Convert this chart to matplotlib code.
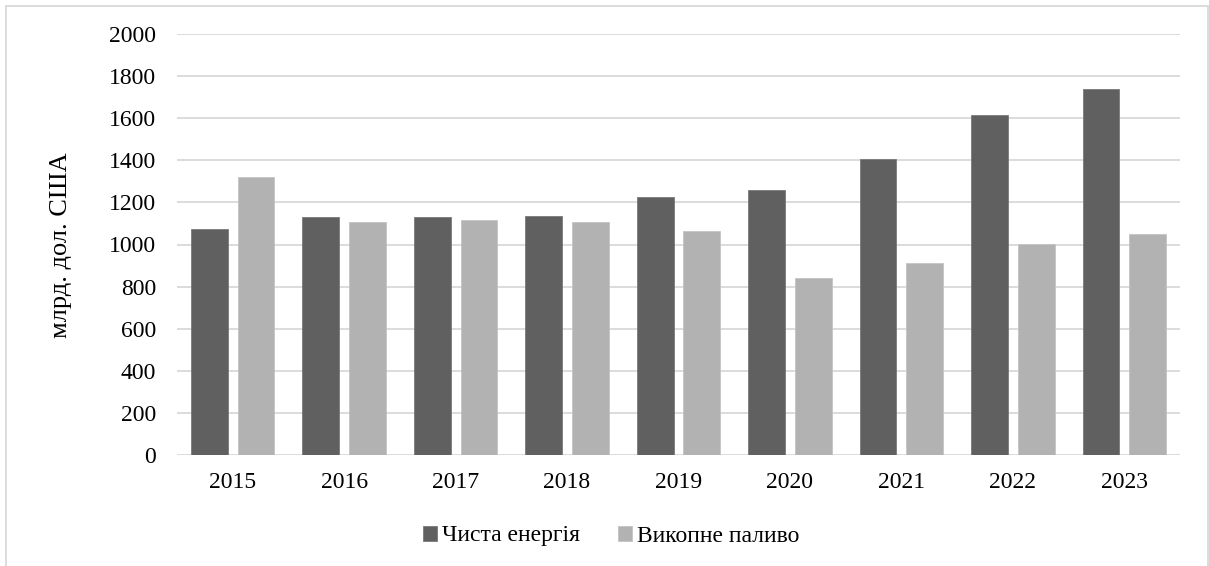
import numpy as np
import matplotlib.pyplot as plt
from matplotlib.patches import Rectangle

years = ["2015", "2016", "2017", "2018", "2019", "2020", "2021", "2022", "2023"]
clean_energy = [1074, 1132, 1129, 1137, 1226, 1259, 1408, 1617, 1741]
fossil_fuel = [1319, 1105, 1115, 1108, 1066, 839, 913, 1002, 1051]
series_names = ["Чиста енергія", "Викопне паливо"]
y_ticks = [0, 200, 400, 600, 800, 1000, 1200, 1400, 1600, 1800, 2000]

plt.rcParams["font.family"] = ["Liberation Serif", "DejaVu Serif"]

fig = plt.figure(figsize=(12.09, 5.66), dpi=100)
ax = fig.add_axes([177 / 1209, 1 - 455 / 566, (1180 - 177) / 1209, (455 - 34) / 566])

x = np.arange(len(years))
w = 0.33
off = 0.209
ax.bar(x - off, clean_energy, w, color="#606060", edgecolor="#7a7a7a", linewidth=0.6,
       label=series_names[0], zorder=3)
ax.bar(x + off, fossil_fuel, w, color="#b2b2b2", edgecolor="#c4c4c4", linewidth=0.6,
       label=series_names[1], zorder=3)

ax.set_xlim(-0.5, len(years) - 0.5)
ax.set_ylim(0, 2000)
ax.set_yticks(y_ticks)
ax.set_xticks(x)
ax.set_xticklabels(years)
ax.tick_params(axis="both", length=0, labelsize=17, colors="black")
ax.tick_params(axis="y", pad=15)
ax.tick_params(axis="x", pad=12)
ax.yaxis.grid(True, color="#d9d9d9", linewidth=1.3, zorder=0)
ax.set_axisbelow(True)
for s in ax.spines.values():
    s.set_visible(False)

fig.text(61 / 1209, 1 - 245 / 566, "млрд. дол. США", rotation=90, fontsize=19,
         ha="center", va="center")

leg = fig.legend(loc="center", bbox_to_anchor=(611 / 1209, 1 - 536 / 566), ncol=2,
                 frameon=False, fontsize=17, handlelength=0.6, handleheight=0.6,
                 handletextpad=0.2, columnspacing=1.6)

# light border around the chart
fig.patches.append(Rectangle((6 / 1209, -0.05), (1208 - 6) / 1209, 1.05 - 6 / 566,
                             transform=fig.transFigure, fill=False,
                             edgecolor="#d9d9d9", linewidth=1.3))

fig.savefig("out.png", dpi=100)
